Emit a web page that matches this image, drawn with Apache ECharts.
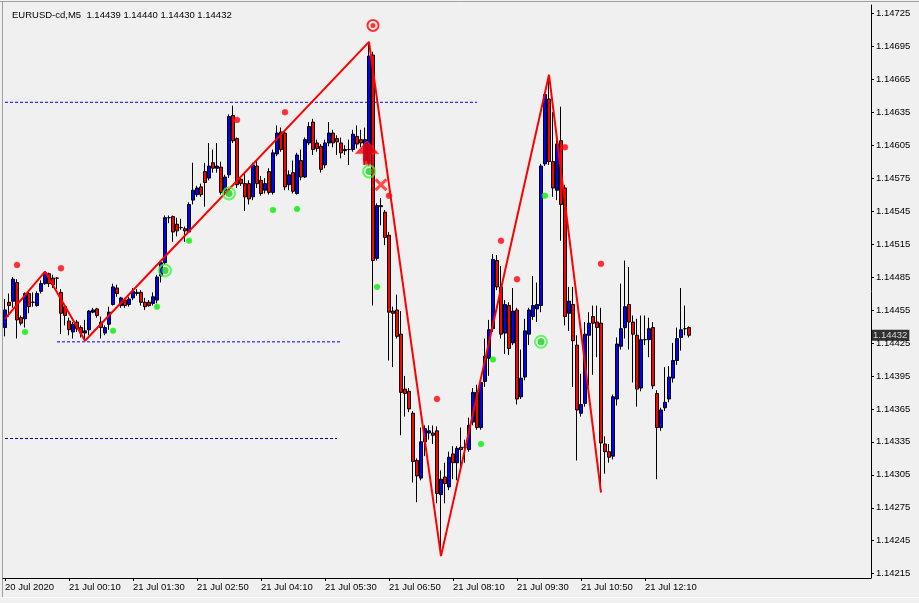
<!DOCTYPE html>
<html><head><meta charset="utf-8">
<script src="https://cdn.jsdelivr.net/npm/echarts@6/dist/echarts.min.js"></script>
<style>html,body{margin:0;padding:0;background:#f0f0f0;overflow:hidden}#c{width:919px;height:603px}</style>
</head><body><div id="c"></div>
<script>
const opens=[1.14439,1.14462,1.14463,1.14480,1.14448,1.14447,1.14470,1.14462,1.14459,1.14472,
1.14479,1.14488,1.14484,1.14484,1.14471,1.14458,1.14445,1.14435,1.14444,1.14439,
1.14434,1.14437,1.14453,1.14456,1.14444,1.14434,1.14442,1.14460,1.14475,1.14459,
1.14464,1.14460,1.14466,1.14470,1.14471,1.14462,1.14462,1.14461,1.14464,1.14486,
1.14498,1.14539,1.14540,1.14533,1.14530,1.14529,1.14526,1.14555,1.14560,1.14567,
1.14581,1.14575,1.14589,1.14584,1.14585,1.14564,1.14578,1.14632,1.14611,1.14574,
1.14570,1.14570,1.14558,1.14586,1.14573,1.14564,1.14581,1.14562,1.14597,1.14617,
1.14616,1.14569,1.14580,1.14561,1.14591,1.14576,1.14607,1.14626,1.14607,1.14604,
1.14587,1.14607,1.14616,1.14611,1.14607,1.14601,1.14601,1.14601,1.14613,1.14610,
1.14591,1.14589,1.14687,1.14502,1.14550,1.14544,1.14523,1.14454,1.14455,1.14433,
1.14383,1.14381,1.14361,1.14318,1.14302,1.14335,1.14343,1.14343,1.14345,1.14287,
1.14303,1.14294,1.14324,1.14316,1.14330,1.14330,1.14328,1.14353,1.14380,1.14348,
1.14390,1.14411,1.14438,1.14500,1.14476,1.14434,1.14459,1.14425,1.14455,1.14376,
1.14394,1.14433,1.14449,1.14456,1.14459,1.14588,1.14647,1.14590,1.14564,1.14609,
1.14566,1.14452,1.14460,1.14423,1.14361,1.14370,1.14432,1.14449,1.14444,1.14443,
1.14333,1.14326,1.14322,1.14374,1.14422,1.14439,1.14460,1.14444,1.14432,1.14384,
1.14428,1.14428,1.14439,1.14379,1.14348,1.14366,1.14374,1.14393,1.14409,1.14430,
1.14438,1.14439];
const highs=[1.14465,1.14470,1.14485,1.14483,1.14450,1.14471,1.14473,1.14471,1.14472,1.14482,
1.14490,1.14489,1.14487,1.14485,1.14474,1.14459,1.14448,1.14444,1.14446,1.14441,
1.14446,1.14455,1.14457,1.14457,1.14449,1.14441,1.14458,1.14479,1.14478,1.14467,
1.14466,1.14467,1.14475,1.14474,1.14473,1.14466,1.14464,1.14471,1.14487,1.14499,
1.14541,1.14541,1.14541,1.14539,1.14538,1.14531,1.14553,1.14589,1.14568,1.14570,
1.14589,1.14607,1.14601,1.14607,1.14590,1.14578,1.14633,1.14641,1.14612,1.14576,
1.14580,1.14573,1.14589,1.14591,1.14577,1.14575,1.14584,1.14601,1.14623,1.14621,
1.14618,1.14582,1.14591,1.14598,1.14601,1.14612,1.14626,1.14629,1.14610,1.14606,
1.14610,1.14626,1.14619,1.14614,1.14612,1.14605,1.14610,1.14619,1.14623,1.14619,
1.14621,1.14699,1.14690,1.14552,1.14557,1.14546,1.14526,1.14458,1.14469,1.14454,
1.14395,1.14384,1.14363,1.14320,1.14348,1.14350,1.14350,1.14350,1.14349,1.14309,
1.14316,1.14326,1.14331,1.14331,1.14348,1.14337,1.14357,1.14384,1.14387,1.14393,
1.14429,1.14446,1.14506,1.14505,1.14495,1.14464,1.14462,1.14475,1.14457,1.14419,
1.14447,1.14457,1.14486,1.14480,1.14588,1.14652,1.14669,1.14635,1.14610,1.14640,
1.14569,1.14476,1.14476,1.14432,1.14397,1.14444,1.14453,1.14459,1.14459,1.14457,
1.14340,1.14333,1.14378,1.14430,1.14479,1.14500,1.14494,1.14450,1.14447,1.14450,
1.14450,1.14448,1.14444,1.14382,1.14366,1.14403,1.14404,1.14425,1.14439,1.14475,
1.14459,1.14440];
const lows=[1.14431,1.14449,1.14457,1.14429,1.14441,1.14439,1.14452,1.14458,1.14458,1.14470,
1.14478,1.14476,1.14475,1.14474,1.14433,1.14441,1.14432,1.14429,1.14435,1.14430,
1.14427,1.14432,1.14452,1.14448,1.14429,1.14432,1.14437,1.14459,1.14467,1.14457,
1.14457,1.14458,1.14464,1.14468,1.14459,1.14455,1.14458,1.14459,1.14461,1.14480,
1.14496,1.14534,1.14517,1.14522,1.14528,1.14517,1.14525,1.14551,1.14558,1.14558,
1.14549,1.14573,1.14580,1.14580,1.14560,1.14560,1.14575,1.14607,1.14566,1.14568,
1.14545,1.14551,1.14555,1.14566,1.14559,1.14561,1.14560,1.14560,1.14595,1.14599,
1.14564,1.14564,1.14561,1.14560,1.14573,1.14575,1.14605,1.14596,1.14599,1.14580,
1.14584,1.14604,1.14603,1.14596,1.14593,1.14596,1.14587,1.14599,1.14602,1.14603,
1.14587,1.14586,1.14459,1.14500,1.14532,1.14514,1.14409,1.14403,1.14429,1.14341,
1.14358,1.14362,1.14298,1.14280,1.14300,1.14322,1.14337,1.14333,1.14279,1.14231,
1.14279,1.14291,1.14301,1.14300,1.14310,1.14316,1.14326,1.14350,1.14346,1.14346,
1.14385,1.14395,1.14435,1.14473,1.14429,1.14415,1.14414,1.14423,1.14369,1.14374,
1.14391,1.14423,1.14446,1.14444,1.14453,1.14586,1.14587,1.14558,1.14555,1.14518,
1.14441,1.14436,1.14385,1.14318,1.14358,1.14367,1.14386,1.14396,1.14412,1.14289,
1.14306,1.14316,1.14319,1.14368,1.14419,1.14429,1.14419,1.14389,1.14367,1.14381,
1.14423,1.14412,1.14383,1.14301,1.14345,1.14363,1.14371,1.14389,1.14405,1.14418,
1.14432,1.14430];
const closes=[1.14455,1.14459,1.14483,1.14446,1.14443,1.14470,1.14458,1.14462,1.14470,1.14479,
1.14489,1.14479,1.14478,1.14484,1.14452,1.14450,1.14437,1.14442,1.14438,1.14434,
1.14436,1.14454,1.14455,1.14450,1.14439,1.14439,1.14453,1.14476,1.14470,1.14466,
1.14459,1.14465,1.14472,1.14471,1.14462,1.14458,1.14459,1.14467,1.14485,1.14498,
1.14539,1.14539,1.14526,1.14527,1.14530,1.14527,1.14551,1.14564,1.14566,1.14560,
1.14571,1.14586,1.14584,1.14586,1.14562,1.14576,1.14631,1.14609,1.14569,1.14570,
1.14558,1.14556,1.14587,1.14570,1.14561,1.14570,1.14562,1.14598,1.14616,1.14601,
1.14567,1.14578,1.14563,1.14596,1.14576,1.14610,1.14622,1.14601,1.14602,1.14583,
1.14607,1.14616,1.14607,1.14608,1.14598,1.14600,1.14601,1.14615,1.14606,1.14607,
1.14610,1.14686,1.14500,1.14550,1.14549,1.14521,1.14453,1.14452,1.14431,1.14380,
1.14379,1.14365,1.14317,1.14304,1.14335,1.14347,1.14345,1.14341,1.14288,1.14301,
1.14297,1.14321,1.14316,1.14329,1.14328,1.14330,1.14350,1.14380,1.14348,1.14389,
1.14413,1.14437,1.14501,1.14476,1.14433,1.14460,1.14420,1.14454,1.14374,1.14393,
1.14436,1.14455,1.14459,1.14460,1.14586,1.14651,1.14590,1.14566,1.14606,1.14551,
1.14449,1.14463,1.14427,1.14364,1.14369,1.14433,1.14443,1.14443,1.14439,1.14334,
1.14326,1.14321,1.14376,1.14424,1.14438,1.14458,1.14444,1.14433,1.14383,1.14428,
1.14428,1.14438,1.14386,1.14348,1.14364,1.14371,1.14394,1.14409,1.14429,1.14437,
1.14438,1.14432];

const tickLabels=["20 Jul 2020","21 Jul 00:10","21 Jul 01:30","21 Jul 02:50","21 Jul 04:10","21 Jul 05:30","21 Jul 06:50","21 Jul 08:10","21 Jul 09:30","21 Jul 10:50","21 Jul 12:10"];
const priceTicks=[1.14215,1.14245,1.14275,1.14305,1.14335,1.14365,1.14395,1.14425,1.14455,1.14485,1.14515,1.14545,1.14575,1.14605,1.14635,1.14665,1.14695,1.14725];

const zigzagBars=[0,10,20,91,109,136,149];
const zigzagPrices=[1.14447,1.14490,1.14427,1.14699,1.14231,1.14669,1.14289];

const levelPrices=[1.14644,1.14426,1.14338];
const levelStart=[0,13,0];
const levelEnd=[118,84,83];

const redDotBars=[3,14,58,70,96,108,124,128,140,149];
const redDotPrices=[1.14496,1.14493,1.14628,1.14635,1.14559,1.14374,1.14518,1.14483,1.14603,1.14497];
const greenDotBars=[5,27,38,46,67,73,93,119,122,135];
const greenDotPrices=[1.14435,1.14436,1.14458,1.14518,1.14546,1.14547,1.14476,1.14333,1.14410,1.14559];
const signalBars=[40,56,91,134];
const signalPrices=[1.14491,1.14561,1.14581,1.14426];
const targetBars=[92];
const targetPrices=[1.14714];
const arrowBars=[91];
const arrowPrices=[1.14598];
const crossBars=[94];
const crossPrices=[1.14569];

const symbolName="EURUSD-cd,M5";
const lastPrice=1.14432;

const NSLOTS=217;
const cats=[];for(let i=0;i<NSLOTS;i++)cats.push(String(i));
const candles=opens.map((o,i)=>[o,closes[i],lows[i],highs[i]]);
const pairs=(b,p)=>b.map((x,i)=>[x,p[i]]);
const FONT='"Liberation Sans", Arial, sans-serif';
const showTick=(idx)=>idx%16===0 && idx/16<tickLabels.length;

const levelSeries=levelPrices.map((p,i)=>({
  type:'line',data:[[levelStart[i],p],[levelEnd[i],p]],symbol:'none',silent:true,
  lineStyle:{color:i===2?'#000080':'#0000ff',width:1,type:[3,2]},z:2
}));

const chart=echarts.init(document.getElementById('c'),null,{renderer:'canvas'});
chart.setOption({
  animation:false,
  backgroundColor:'#f0f0f0',
  title:{text:symbolName+'  '+[opens[171],highs[171],lows[171],closes[171]].map(v=>v.toFixed(5)).join(' '),
    left:7,top:5,textStyle:{fontFamily:FONT,fontSize:9.5,fontWeight:'normal',color:'#000'}},
  grid:{left:3,right:48,top:5,bottom:25,containLabel:false},
  xAxis:{type:'category',data:cats,boundaryGap:true,
    axisLine:{show:true,lineStyle:{color:'#000',width:1}},
    axisTick:{show:true,alignWithLabel:true,length:3,interval:(i)=>showTick(i),lineStyle:{color:'#000'}},
    axisLabel:{interval:(i)=>showTick(i),formatter:(v,i)=>tickLabels[Math.round(i/16)]||'',align:'left',margin:4,
      fontFamily:FONT,fontSize:9.5,color:'#000'},
    splitLine:{show:false}},
  yAxis:{type:'value',position:'right',min:1.1421109,max:1.1473255,scale:true,
    axisLine:{show:true,lineStyle:{color:'#000',width:1}},
    axisTick:{show:true,length:3,customValues:priceTicks,lineStyle:{color:'#000'}},
    axisLabel:{customValues:priceTicks,formatter:(v)=>v.toFixed(5),margin:5,fontFamily:FONT,fontSize:9.5,color:'#000'},
    splitLine:{show:false}},
  series:[
    ...levelSeries,
    {type:'candlestick',data:candles,barWidth:3,z:3,
      itemStyle:{color:'#0000ff',color0:'#ff0000',borderColor:'#000',borderColor0:'#000',borderColorDoji:'#000',borderWidth:1}},
    {type:'line',data:pairs(zigzagBars,zigzagPrices),symbol:'none',z:4,lineStyle:{color:'#ff0000',width:2}},
    {type:'scatter',data:pairs(redDotBars,redDotPrices),symbol:'circle',symbolSize:6,z:5,itemStyle:{color:'#ff0000',borderColor:'#ff3366',borderWidth:0.5}},
    {type:'scatter',data:pairs(greenDotBars,greenDotPrices),symbol:'circle',symbolSize:6,z:5,itemStyle:{color:'#00ee00',borderColor:'#66ff66',borderWidth:0.5}},
    {type:'scatter',data:pairs(signalBars,signalPrices),symbol:'circle',symbolSize:12,z:5,itemStyle:{color:'transparent',borderColor:'#33ff33',borderWidth:2}},
    {type:'scatter',data:pairs(signalBars,signalPrices),symbol:'circle',symbolSize:7,z:6,itemStyle:{color:'#22cc22'}},
    {type:'scatter',data:pairs(targetBars,targetPrices),symbol:'circle',symbolSize:11,z:5,itemStyle:{color:'transparent',borderColor:'#ff0000',borderWidth:2}},
    {type:'scatter',data:pairs(targetBars,targetPrices),symbol:'circle',symbolSize:5,z:6,itemStyle:{color:'#ff0000'}},
    {type:'scatter',data:pairs(arrowBars,arrowPrices),symbol:'path://M12,0 L24,13 L16,13 L16,24 L8,24 L8,13 L0,13 Z',symbolSize:[24,24],symbolOffset:[-2,0],z:10,itemStyle:{color:'#ff0000',borderColor:'#ff6680',borderWidth:0.5}},
    {type:'scatter',data:pairs(crossBars,crossPrices),symbol:'path://M0,2 L2,0 L6,4 L10,0 L12,2 L8,6 L12,10 L10,12 L6,8 L2,12 L0,10 L4,6 Z',symbolSize:13,z:10,itemStyle:{color:'#ff2020'}},
    {type:'scatter',data:[[NSLOTS-1,lastPrice]],symbolSize:0,z:9,silent:true,clip:false,
      label:{show:true,position:'right',distance:2,formatter:()=>lastPrice.toFixed(5),backgroundColor:'#000',color:'#fff',
        padding:[1,2,0,2],fontFamily:FONT,fontSize:9.5}}
  ],
  graphic:[
    {type:'line',shape:{x1:0,y1:1.5,x2:919,y2:1.5},style:{stroke:'#a0a0a0',lineWidth:1},silent:true},
    {type:'line',shape:{x1:2.5,y1:1,x2:2.5,y2:597},style:{stroke:'#a0a0a0',lineWidth:1},silent:true},
    {type:'line',shape:{x1:0,y1:597.5,x2:919,y2:597.5},style:{stroke:'#ffffff',lineWidth:1},silent:true}
  ]
});
</script></body></html>
